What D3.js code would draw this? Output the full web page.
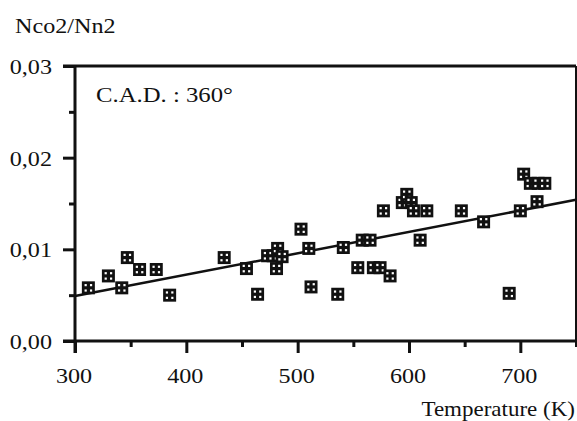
<!DOCTYPE html>
<html>
<head>
<meta charset="utf-8">
<script src="https://cdn.jsdelivr.net/npm/d3@7"></script>
<style>
  body { margin: 0; background: #fff; }
  svg { display: block; }
  text { font-family: "Liberation Serif", "DejaVu Serif", serif; fill: #111; }
</style>
</head>
<body>
<svg width="577" height="421"></svg>
<script>
// temperature (K) and Nco2/Nn2
var temperature = [312, 330, 342, 347, 358, 373, 385, 434, 454, 464,
                   473, 478, 482, 486, 481, 503, 510, 512, 536, 541,
                   554, 558, 565, 568, 574, 583, 577, 594, 598, 602,
                   604, 610, 616, 647, 667, 690, 700, 703, 709, 715,
                   716, 722];
var ratio = [0.0058, 0.0071, 0.0058, 0.0091, 0.0078, 0.0078, 0.0050, 0.0091, 0.0079, 0.0051,
             0.0093, 0.0093, 0.0101, 0.0092, 0.0079, 0.0122, 0.0101, 0.0059, 0.0051, 0.0102,
             0.0080, 0.0110, 0.0110, 0.0080, 0.0080, 0.0071, 0.0142, 0.0151, 0.0160, 0.0151,
             0.0142, 0.0110, 0.0142, 0.0142, 0.0130, 0.0052, 0.0142, 0.0182, 0.0172, 0.0152,
             0.0172, 0.0172];

// regression line end points
var fitX = [300, 750];
var fitY = [0.0049, 0.0154];

var xTicks = [300, 400, 500, 600, 700];
var xMinor = [350, 450, 550, 650, 750];
var yTicks = [0, 0.01, 0.02, 0.03];
var yMinor = [0.005, 0.015, 0.025];
var yLabels = ["0,00", "0,01", "0,02", "0,03"];

var svg = d3.select("svg");
var pLeft = 75, pRight = 576, pTop = 66, pBottom = 341;

var x = d3.scaleLinear().domain([300, 750]).range([pLeft, pRight]);
var y = d3.scaleLinear().domain([0, 0.03]).range([pBottom, pTop]);

// the scanned type is a bit wider than it is tall
function label(px, py, str, size, anchor) {
    return svg.append("text")
        .attr("transform", "translate(" + px + "," + py + ") scale(1.15,1)")
        .attr("text-anchor", anchor || "start")
        .style("font-size", size + "px")
        .text(str);
}

var ink = "#111";

// frame: top and right edges
svg.append("line").attr("x1", pLeft - 12).attr("x2", pRight).attr("y1", pTop).attr("y2", pTop)
    .attr("stroke", ink).attr("stroke-width", 3);
svg.append("line").attr("x1", pRight).attr("x2", pRight).attr("y1", pTop).attr("y2", pBottom)
    .attr("stroke", ink).attr("stroke-width", 2);

// axes, major and minor ticks
svg.append("g").attr("transform", "translate(0," + pBottom + ")")
    .call(d3.axisBottom(x).tickValues(xTicks).tickSize(12).tickFormat(""));
svg.append("g").attr("transform", "translate(0," + pBottom + ")")
    .call(d3.axisBottom(x).tickValues(xMinor).tickSize(6).tickFormat(""));

svg.append("g").attr("transform", "translate(" + pLeft + ",0)")
    .call(d3.axisLeft(y).tickValues(yTicks).tickSize(12).tickFormat(""));
svg.append("g").attr("transform", "translate(" + pLeft + ",0)")
    .call(d3.axisLeft(y).tickValues(yMinor).tickSize(6).tickFormat(""));

svg.selectAll(".domain").remove();
svg.selectAll(".tick line").attr("stroke", ink).attr("stroke-width", 3);

svg.append("line").attr("x1", pLeft - 12).attr("x2", pRight).attr("y1", pBottom).attr("y2", pBottom)
    .attr("stroke", ink).attr("stroke-width", 3);
svg.append("line").attr("x1", pLeft).attr("x2", pLeft).attr("y1", pTop).attr("y2", pBottom + 12)
    .attr("stroke", ink).attr("stroke-width", 3);

// tick labels
xTicks.forEach(function(t) {
    label(x(t) - 1, pBottom + 42, String(t), 21, "middle");
});
yTicks.forEach(function(t, i) {
    label(52, y(t) + 8, yLabels[i], 21, "end");
});

label(15, 33, "Nco2/Nn2", 21);
label(575, 416, "Temperature (K)", 20, "end");
label(96, 102, "C.A.D. : 360°", 21.5);

// regression line
svg.append("line")
    .attr("x1", x(fitX[0])).attr("y1", y(fitY[0]))
    .attr("x2", x(fitX[1])).attr("y2", y(fitY[1]))
    .attr("stroke", ink).attr("stroke-width", 2.5);

// markers: black square with four white dots
var pts = temperature.map(function(t, i) { return { t: t, r: ratio[i] }; });
var mark = svg.selectAll(".mark")
    .data(pts)
    .enter().append("g")
    .attr("class", "mark")
    .attr("transform", d => "translate(" + x(d.t) + "," + y(d.r) + ")");

mark.append("rect")
    .attr("x", -6.5).attr("y", -6.5)
    .attr("width", 13).attr("height", 13)
    .attr("fill", ink);

mark.selectAll(".dot")
    .data([[-2.7, -2.7], [2.7, -2.7], [-2.7, 2.7], [2.7, 2.7]])
    .enter().append("rect")
    .attr("class", "dot")
    .attr("x", d => d[0] - 1.1).attr("y", d => d[1] - 1.1)
    .attr("width", 2.2).attr("height", 2.2)
    .attr("fill", "#fff");
</script>
</body>
</html>
